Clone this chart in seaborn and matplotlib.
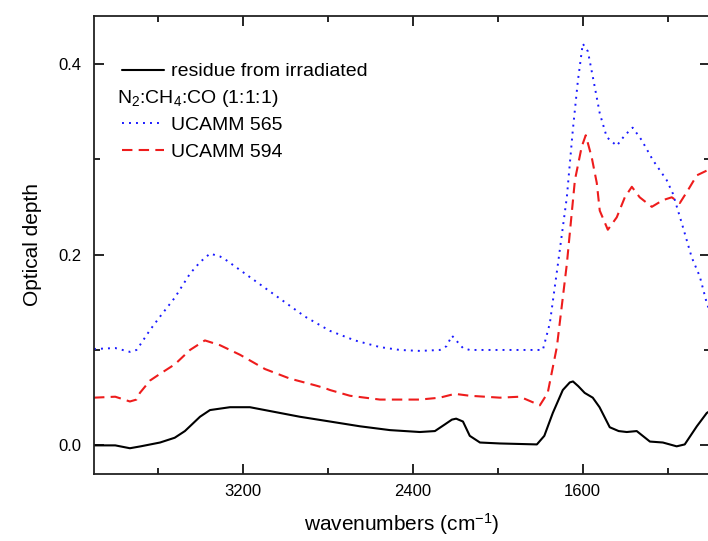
import numpy as np
import pandas as pd
import matplotlib
matplotlib.use("Agg")
import matplotlib.pyplot as plt
import seaborn as sns
from matplotlib.lines import Line2D
from matplotlib.ticker import MultipleLocator

# --- data ---
res_wn = [3900, 3800, 3731, 3680, 3589, 3520, 3472, 3401, 3354, 3260, 3166, 3072,
          2931, 2789, 2648, 2507, 2366, 2295, 2248, 2215, 2195, 2163, 2131, 2083,
          1989, 1815, 1780, 1740, 1693, 1660, 1645, 1620, 1590, 1552, 1520, 1472,
          1430, 1392, 1345, 1283, 1222, 1157, 1119, 1062, 1015, 1000]
res_od = [0.000, 0.000, -0.003, -0.001, 0.003, 0.008, 0.015, 0.030, 0.037, 0.040, 0.040, 0.036,
          0.030, 0.025, 0.020, 0.016, 0.014, 0.015, 0.022, 0.027, 0.028, 0.025, 0.010, 0.003,
          0.002, 0.001, 0.010, 0.034, 0.058, 0.066, 0.067, 0.062, 0.055, 0.050, 0.040, 0.019,
          0.015, 0.014, 0.015, 0.004, 0.003, -0.001, 0.001, 0.020, 0.034, 0.036]

u565_wn = [3900, 3800, 3731, 3700, 3684, 3636, 3589, 3519, 3448, 3401, 3354, 3307, 3283,
           3189, 3095, 3001, 2907, 2789, 2672, 2554, 2460, 2366, 2272, 2240, 2215, 2195,
           2163, 2131, 1989, 1850, 1787, 1754, 1716, 1674, 1646, 1622, 1599, 1575, 1542,
           1519, 1486, 1439, 1401, 1364, 1322, 1269, 1204, 1175, 1133, 1086, 1048, 1015, 1000]
u565_od = [0.101, 0.102, 0.098, 0.100, 0.105, 0.121, 0.135, 0.155, 0.180, 0.192, 0.201, 0.198, 0.195,
           0.180, 0.165, 0.150, 0.135, 0.120, 0.110, 0.103, 0.100, 0.099, 0.100, 0.104, 0.115, 0.110,
           0.102, 0.100, 0.100, 0.100, 0.100, 0.128, 0.190, 0.260, 0.330, 0.382, 0.421, 0.413, 0.375,
           0.348, 0.323, 0.314, 0.325, 0.333, 0.320, 0.299, 0.278, 0.264, 0.233, 0.197, 0.177, 0.149, 0.140]

u594_wn = [3900, 3800, 3731, 3700, 3684, 3636, 3589, 3519, 3448, 3378, 3307, 3213, 3095,
           2978, 2860, 2813, 2789, 2695, 2554, 2366, 2272, 2201, 2131, 1989, 1895, 1801,
           1764, 1721, 1674, 1636, 1604, 1585, 1557, 1533, 1519, 1481, 1439, 1401, 1368,
           1331, 1274, 1222, 1180, 1142, 1105, 1062, 1015, 1000]
u594_od = [0.050, 0.051, 0.046, 0.048, 0.055, 0.068, 0.075, 0.085, 0.100, 0.110, 0.105, 0.095, 0.080,
           0.070, 0.063, 0.060, 0.058, 0.052, 0.048, 0.048, 0.050, 0.054, 0.052, 0.050, 0.051, 0.042,
           0.055, 0.103, 0.190, 0.278, 0.313, 0.325, 0.302, 0.275, 0.246, 0.226, 0.239, 0.260, 0.271,
           0.260, 0.250, 0.257, 0.260, 0.254, 0.267, 0.283, 0.288, 0.290]

x_ticks = [3200, 2400, 1600]
y_ticks = [0.0, 0.2, 0.4]

sns.set_style("ticks")
plt.rcParams["font.family"] = ["Liberation Sans", "DejaVu Sans"]
plt.rcParams["mathtext.fontset"] = "custom"
plt.rcParams["mathtext.rm"] = "Liberation Sans"
plt.rcParams["mathtext.it"] = "Liberation Sans"
plt.rcParams["text.color"] = "black"
plt.rcParams["axes.labelcolor"] = "black"
plt.rcParams["xtick.color"] = "black"
plt.rcParams["ytick.color"] = "black"

fig = plt.figure(figsize=(7.08, 5.41), dpi=100)
ax = fig.add_axes([94 / 708, (541 - 474) / 541, 616 / 708, (474 - 16) / 541])

df_res = pd.DataFrame({"wn": res_wn, "od": res_od})
df_565 = pd.DataFrame({"wn": u565_wn, "od": u565_od})
df_594 = pd.DataFrame({"wn": u594_wn, "od": u594_od})

blue = "#1a1aff"
red = "#ee1c1c"
sns.lineplot(data=df_res, x="wn", y="od", ax=ax, color="black", lw=1.5,
             estimator=None, sort=False)
sns.lineplot(data=df_565, x="wn", y="od", ax=ax, color=blue, lw=1.4,
             linestyle=(0, (1, 2.6)), estimator=None, sort=False)
sns.lineplot(data=df_594, x="wn", y="od", ax=ax, color=red, lw=1.5,
             linestyle=(0, (5, 3)), estimator=None, sort=False)

ax.set_xlim(3900, 1000)
ax.set_ylim(-0.03, 0.45)
ax.set_xticks(x_ticks)
ax.set_xticklabels([str(t) for t in x_ticks])
ax.xaxis.set_minor_locator(MultipleLocator(400))
ax.set_yticks(y_ticks)
ax.set_yticklabels([f"{t:.1f}" for t in y_ticks])
ax.yaxis.set_minor_locator(MultipleLocator(0.1))
ax.tick_params(which="both", direction="in", top=True, right=True, labelsize=12,
               width=1.2, colors="black")
ax.tick_params(which="major", length=7)
ax.tick_params(which="minor", length=4)
ax.tick_params(axis="x", pad=7)
ax.tick_params(axis="y", pad=9)
for s in ax.spines.values():
    s.set_linewidth(1.3)
    s.set_color("#222222")

ax.set_xlabel("wavenumbers (cm$^{\\mathregular{-1}}$)", fontsize=15, labelpad=9,
              color="black")
ax.set_ylabel("Optical depth", fontsize=15, labelpad=12, color="black")

handles = [Line2D([], [], color="black", lw=1.5),
           Line2D([], [], color="none"),
           Line2D([], [], color=blue, lw=1.4, linestyle=(0, (1, 2.6))),
           Line2D([], [], color=red, lw=1.5, linestyle=(0, (5, 3)))]
labels = ["residue from irradiated", " ", "UCAMM 565", "UCAMM 594"]
ax.legend(handles, labels, loc="upper left", bbox_to_anchor=(0.045, 0.898),
          frameon=False, fontsize=14, handlelength=2.2, handletextpad=0.35,
          labelspacing=0.48, borderpad=0, borderaxespad=0, labelcolor="black")
ax.text(0.037, 0.82, "N$_2$:CH$_4$:CO (1:1:1)", transform=ax.transAxes,
        fontsize=14, va="center", ha="left", color="black")

fig.savefig("out.png", dpi=100)
